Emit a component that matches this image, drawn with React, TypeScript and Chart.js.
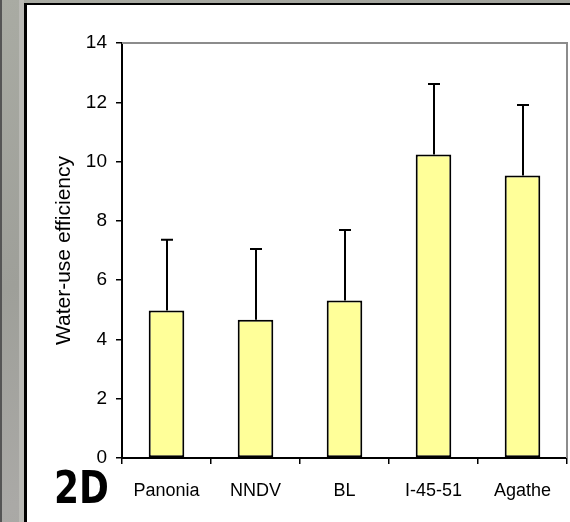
import React, { useEffect, useRef } from "react";
import { Chart, registerables } from "chart.js";

Chart.register(...registerables);

const categories = ["Panonia", "NNDV", "BL", "I-45-51", "Agathe"];
const wueMeans = [4.98, 4.66, 5.31, 10.24, 9.53];
const wueErrors = [2.38, 2.39, 2.38, 2.38, 2.38];
const yTickMax = 14;
const yTickStep = 2;
const yTitle = "Water-use efficiency";
const panelLabel = "2D";

const errorBarPlugin = {
  id: "errorBars",
  afterDatasetsDraw(chart: any) {
    const meta = chart.getDatasetMeta(0);
    const yScale = chart.scales.y;
    const ctx = chart.ctx;
    ctx.save();
    ctx.strokeStyle = "#000";
    ctx.lineWidth = 2;
    meta.data.forEach((bar: any, i: number) => {
      const x = Math.round(bar.x);
      const top = yScale.getPixelForValue(wueMeans[i] + wueErrors[i]);
      ctx.beginPath();
      ctx.moveTo(x, bar.y);
      ctx.lineTo(x, top);
      ctx.moveTo(x - 6, top);
      ctx.lineTo(x + 6, top);
      ctx.stroke();
    });
    ctx.restore();
  },
};

const framePlugin = {
  id: "frame",
  beforeDatasetsDraw(chart: any) {
    const { ctx, chartArea } = chart;
    ctx.save();
    ctx.strokeStyle = "#8c8c8c";
    ctx.lineWidth = 2;
    ctx.beginPath();
    ctx.moveTo(chartArea.left, chartArea.top);
    ctx.lineTo(chartArea.right, chartArea.top);
    ctx.lineTo(chartArea.right, chartArea.bottom);
    ctx.stroke();
    ctx.restore();
  },
};

export default function App() {
  const canvasRef = useRef<HTMLCanvasElement | null>(null);

  useEffect(() => {
    if (!canvasRef.current) return;
    const chart = new Chart(canvasRef.current, {
      type: "bar",
      data: {
        labels: categories,
        datasets: [
          {
            data: wueMeans,
            backgroundColor: "#ffff99",
            borderColor: "#000",
            borderWidth: 2,
            borderSkipped: false,
            barPercentage: 0.4,
            categoryPercentage: 1.0,
          },
        ],
      },
      options: {
        animation: false,
        responsive: false,
        layout: { padding: { left: 48, top: 43, right: 3, bottom: 0 } },
        plugins: { legend: { display: false }, tooltip: { enabled: false } },
        scales: {
          x: {
            afterFit: (s: any) => {
              s.height = 64;
            },
            grid: {
              offset: true,
              drawOnChartArea: false,
              drawTicks: true,
              tickLength: 6,
              tickColor: "#000",
              lineWidth: 1.5,
            },
            border: { color: "#000", width: 2 },
            ticks: {
              color: "#000",
              padding: 16,
              font: { family: "'Liberation Sans', Arial, sans-serif", size: 18 },
            },
          },
          y: {
            min: 0,
            max: yTickMax,
            afterFit: (s: any) => {
              s.width = 74;
            },
            grid: {
              drawOnChartArea: false,
              drawTicks: true,
              tickLength: 6,
              tickColor: "#000",
              lineWidth: 1.5,
            },
            border: { color: "#000", width: 2 },
            ticks: {
              stepSize: yTickStep,
              color: "#000",
              padding: 9,
              font: { family: "'Liberation Sans', Arial, sans-serif", size: 19 },
            },
            title: {
              display: true,
              text: yTitle,
              color: "#000",
              font: { family: "'Liberation Sans', Arial, sans-serif", size: 21 },
            },
          },
        },
      },
      plugins: [framePlugin, errorBarPlugin],
    });
    return () => chart.destroy();
  }, []);

  return (
    <div
      style={{
        position: "fixed",
        left: 0,
        top: 0,
        width: 570,
        height: 522,
        background: "linear-gradient(160deg, #a9aba3 0%, #9e9f99 40%, #aaa9a6 70%, #a3a49c 100%)",
        overflow: "hidden",
      }}
    >
      <div
        style={{
          position: "absolute",
          left: 0,
          top: 0,
          width: 2,
          height: 522,
          background: "#555",
        }}
      />
      <div
        style={{
          position: "absolute",
          left: 19,
          top: 0,
          width: 5,
          height: 522,
          background: "#b9b9b4",
        }}
      />
      <div
        style={{
          position: "absolute",
          left: 24,
          top: 3,
          width: 560,
          height: 540,
          background: "#fff",
          borderLeft: "3px solid #000",
          borderTop: "2px solid #000",
          boxSizing: "border-box",
        }}
      />
      <canvas
        ref={canvasRef}
        width={570}
        height={522}
        style={{ position: "absolute", left: 0, top: 0, width: 570, height: 522 }}
      />
      <div
        style={{
          position: "absolute",
          left: 54,
          top: 462,
          fontFamily: "'DejaVu Sans', sans-serif",
          fontWeight: "bold",
          fontSize: 45,
          lineHeight: "52px",
          color: "#000",
          transform: "scaleX(0.8)",
          transformOrigin: "left top",
        }}
      >
        {panelLabel}
      </div>
    </div>
  );
}
